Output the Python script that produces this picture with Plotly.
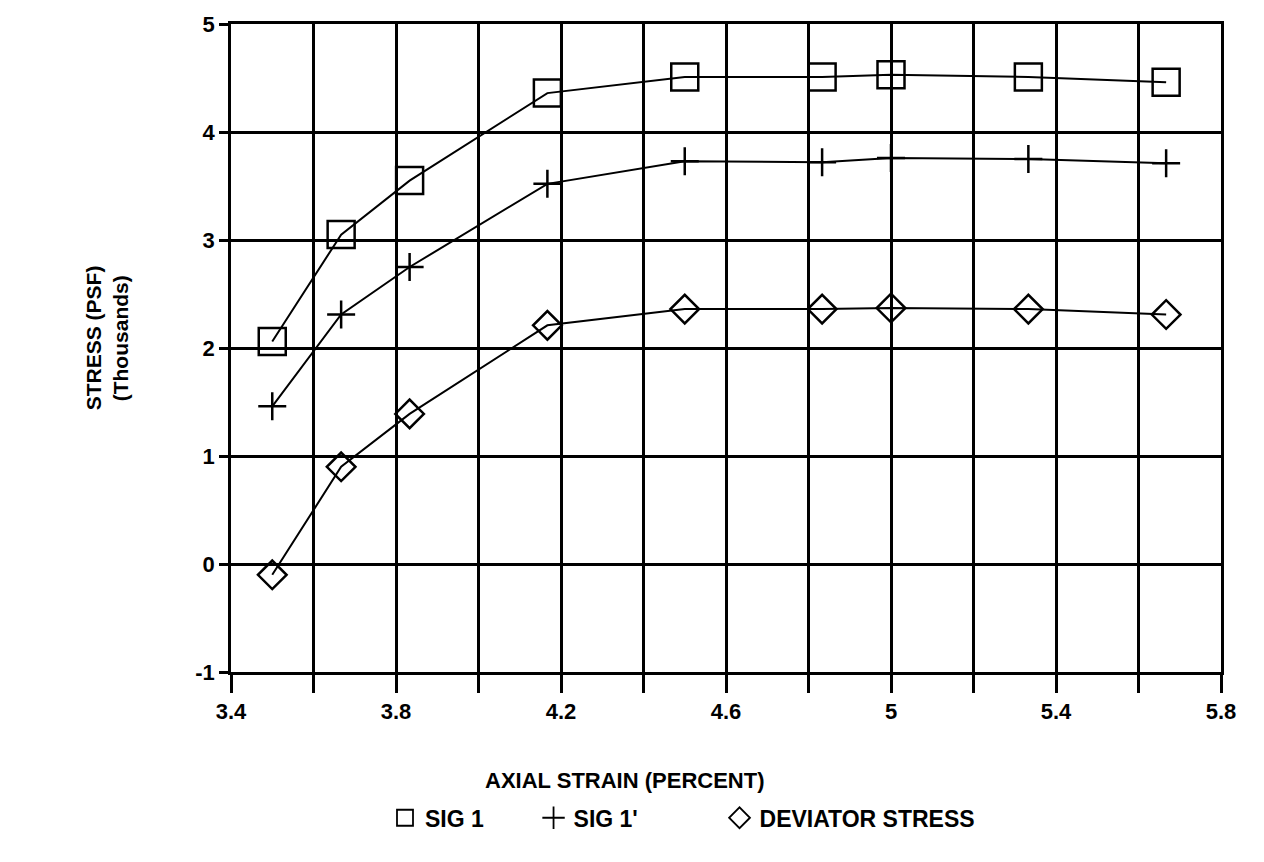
import plotly.graph_objects as go

# Axial strain (percent) at each reading
strain = [3.5, 3.667, 3.833, 4.167, 4.5, 4.833, 5.0, 5.333, 5.667]

# Stresses in thousands of PSF
sig1 = [2.06, 3.05, 3.55, 4.36, 4.51, 4.51, 4.53, 4.51, 4.46]
sig1_eff = [1.46, 2.31, 2.75, 3.52, 3.73, 3.72, 3.76, 3.75, 3.71]
deviator = [-0.10, 0.90, 1.39, 2.21, 2.36, 2.36, 2.37, 2.36, 2.31]

series_names = ["SIG 1", "SIG 1'", "DEVIATOR STRESS"]

x_grid_vals = [3.4, 3.6, 3.8, 4.0, 4.2, 4.4, 4.6, 4.8, 5.0, 5.2, 5.4, 5.6, 5.8]
x_grid_text = ["3.4", "", "3.8", "", "4.2", "", "4.6", "", "5", "", "5.4", "", "5.8"]
y_vals = [-1, 0, 1, 2, 3, 4, 5]
y_text = ["-1", "0", "1", "2", "3", "4", "5"]

FONT = "Liberation Sans"
INK = "black"
NBSP = "\u00a0"

fig = go.Figure()

styles = [
    dict(symbol="square-open", size=27),
    dict(symbol="cross-thin-open", size=20),
    dict(symbol="diamond-open", size=22),
]
# trailing padding widens the horizontal legend entries
legend_pad = [7, 12, 0]

for name, ys, st, pad in zip(series_names, [sig1, sig1_eff, deviator], styles, legend_pad):
    fig.add_trace(go.Scatter(
        x=strain, y=ys, mode="lines+markers", name=name, showlegend=False,
        line=dict(color=INK, width=2),
        marker=dict(symbol=st["symbol"], size=st["size"], color=INK,
                    line=dict(color=INK, width=2.5)),
    ))
    # legend entry: marker only
    fig.add_trace(go.Scatter(
        x=[None], y=[None], mode="markers", name=name + NBSP * pad, showlegend=True,
        marker=dict(symbol=st["symbol"], size=16, color=INK,
                    line=dict(color=INK, width=1.8)),
    ))

fig.update_xaxes(
    range=[3.4, 5.8], tickmode="array", tickvals=x_grid_vals, ticktext=x_grid_text,
    showgrid=True, gridcolor=INK, gridwidth=2.8,
    showline=True, linecolor=INK, linewidth=2.8, mirror=True,
    ticks="outside", ticklen=18, tickwidth=2.8, tickcolor=INK,
    tickfont=dict(family=FONT, size=22, color=INK, weight="bold"),
    zeroline=False,
)
fig.update_yaxes(
    range=[-1, 5], tickmode="array", tickvals=y_vals, ticktext=y_text,
    showgrid=True, gridcolor=INK, gridwidth=2.8,
    showline=True, linecolor=INK, linewidth=2.8, mirror=True,
    ticks="outside", ticklen=9, tickwidth=2.8, tickcolor=INK,
    tickfont=dict(family=FONT, size=22, color=INK, weight="bold"),
    zeroline=False,
)

# Two-line vertical axis title
fig.add_annotation(
    text="STRESS (PSF)", textangle=-90,
    xref="paper", yref="paper", x=0, y=0.515, xanchor="center", yanchor="middle",
    xshift=93 - 231, showarrow=False,
    font=dict(family=FONT, size=21, color=INK, weight="bold"),
)
fig.add_annotation(
    text="(Thousands)", textangle=-90,
    xref="paper", yref="paper", x=0, y=0.515, xanchor="center", yanchor="middle",
    xshift=120 - 231, showarrow=False,
    font=dict(family=FONT, size=21, color=INK, weight="bold"),
)
fig.add_annotation(
    text="AXIAL STRAIN (PERCENT)",
    xref="paper", yref="paper", x=(625 - 231) / 990, y=0, xanchor="center", yanchor="middle",
    yshift=-108, showarrow=False,
    font=dict(family=FONT, size=22, color=INK, weight="bold"),
)

fig.update_layout(
    width=1264, height=862,
    margin=dict(l=231, r=43, t=14, b=190),
    plot_bgcolor="white", paper_bgcolor="white",
    showlegend=True,
    legend=dict(
        orientation="h", x=(385 - 231) / 990, y=-0.225, xanchor="left", yanchor="middle",
        font=dict(family=FONT, size=23, color=INK, weight="bold"),
        itemwidth=30, bgcolor="rgba(0,0,0,0)",
    ),
)

fig.write_html("out.html")
